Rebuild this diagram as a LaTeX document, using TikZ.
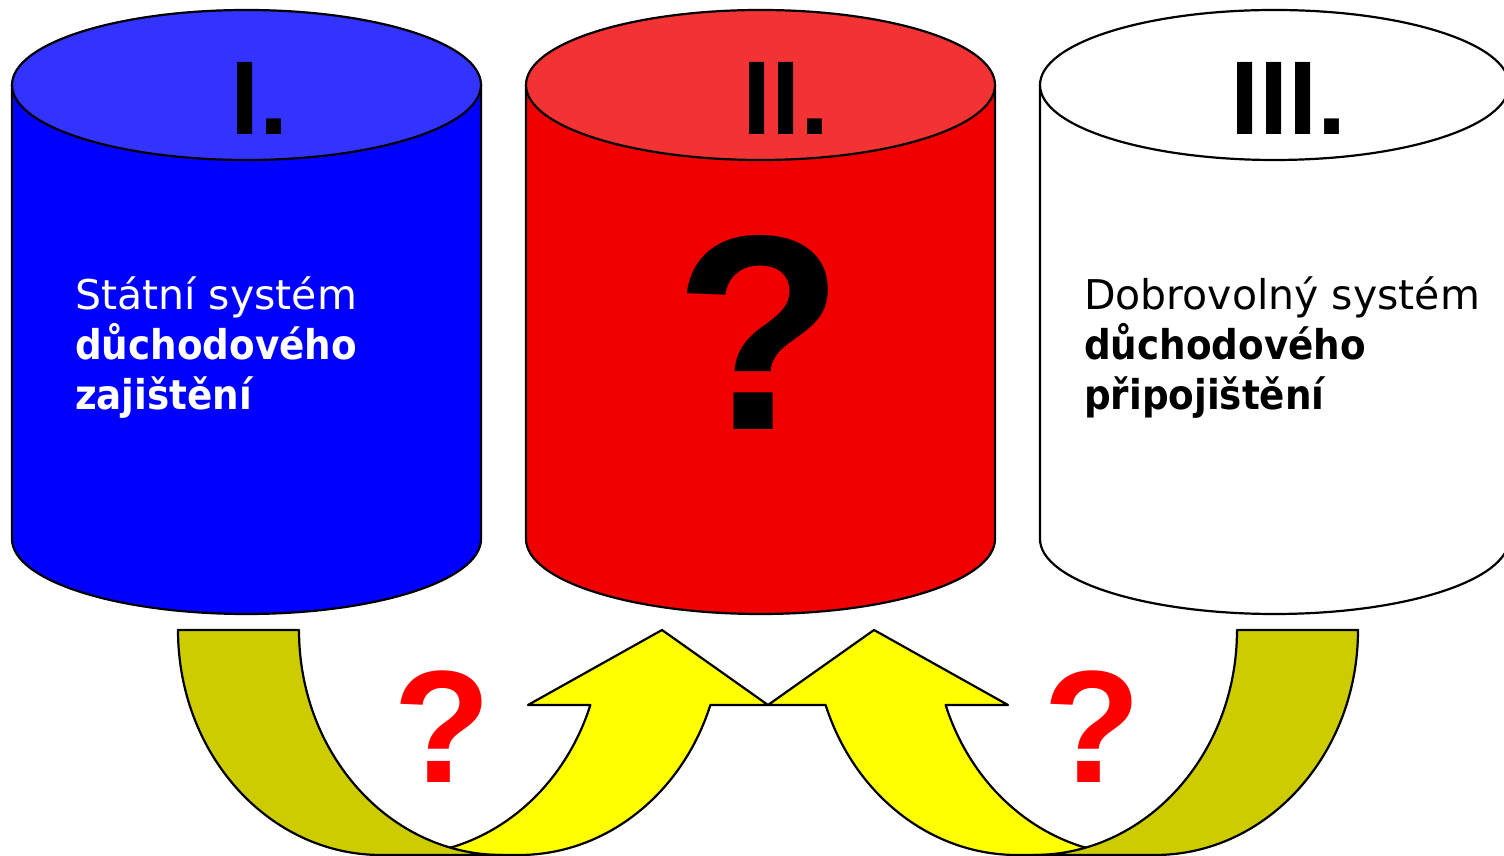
\documentclass[tikz,border=0pt]{standalone}
\usepackage{fontspec}
\setmainfont{DejaVu Sans}[BoldFeatures={FakeStretch=0.91}]
\newfontfamily\numfont{Liberation Sans}
\definecolor{bodyblue}{HTML}{0000FF}
\definecolor{topblue}{HTML}{3333FF}
\definecolor{bodyred}{HTML}{F00000}
\definecolor{topred}{HTML}{F33333}
\definecolor{bandolive}{HTML}{CCCC00}
\definecolor{bandyellow}{HTML}{FFFF00}
\definecolor{qred}{HTML}{FF0000}
\newcommand\mycyl[3]{%
  \fill[#2] (#1-234.5,771) -- (#1-234.5,317) arc[start angle=180,end angle=360,x radius=234.5,y radius=75] -- (#1+234.5,771) -- cycle;
  \draw (#1-234.5,771) -- (#1-234.5,317) arc[start angle=180,end angle=360,x radius=234.5,y radius=75] -- (#1+234.5,771);
  \filldraw[fill=#3] (#1,771) ellipse[x radius=234.5,y radius=75];
}
\newcommand\myband{%
  \filldraw[fill=bandyellow] (590.39,151) arc[start angle=-19.47,end angle=-90,x radius=203,y radius=225] -- (519,1) arc[start angle=-90,end angle=-19.47,x radius=203,y radius=225] -- (768,151) -- (662,226) -- (528,151) -- cycle;
  \filldraw[fill=bandolive] (178,226) arc[start angle=180,end angle=270,x radius=203,y radius=225] -- (502,1) arc[start angle=270,end angle=180,x radius=203,y radius=225] -- cycle;
}
\tikzset{
  numeral/.style={font=\numfont\bfseries\fontsize{52.4}{60}\selectfont, anchor=base, inner sep=0pt},
  smallq/.style={font=\numfont\bfseries\fontsize{80}{90}\selectfont, anchor=base, inner sep=0pt, text=qred},
  bodytext/.style={font=\fontsize{20.5}{25}\selectfont, anchor=base west, inner sep=0pt},
}
\begin{document}
\begin{tikzpicture}[x=0.5pt,y=0.5pt,line width=1.1pt,line join=round]
\useasboundingbox (0,0) rectangle (1504,856);
\clip (0,0) rectangle (1504,856);
\fill[white] (0,0) rectangle (1504,856);
\mycyl{246.5}{bodyblue}{topblue}
\mycyl{760.5}{bodyred}{topred}
\mycyl{1274.5}{white}{white}
\node[numeral] (n1) at (259.5,721) {I.};
\node[numeral] (n2) at (786,721) {II.};
\node[numeral] (n3) at (1288.5,721) {III.};
\node[font=\numfont\bfseries\fontsize{139}{150}\selectfont, anchor=base, inner sep=0pt] (bigq) at (759,426) {?};
\node[bodytext, text=white] (l1) at (74,546) {Státní systém};
\node[bodytext, text=white] (l2) at (74,496) {\bfseries důchodového};
\node[bodytext, text=white] (l3) at (74,446) {\bfseries zajištění};
\node[bodytext] (r1) at (1083,546) {Dobrovolný systém};
\node[bodytext] (r2) at (1083,496) {\bfseries důchodového};
\node[bodytext] (r3) at (1083,446) {\bfseries připojištění};
\myband
\begin{scope}[xshift=768pt,xscale=-1]
\myband
\end{scope}
\node[smallq] (q1) at (442.5,73) {?};
\node[smallq] (q2) at (1092.5,73) {?};
\end{tikzpicture}
\end{document}
